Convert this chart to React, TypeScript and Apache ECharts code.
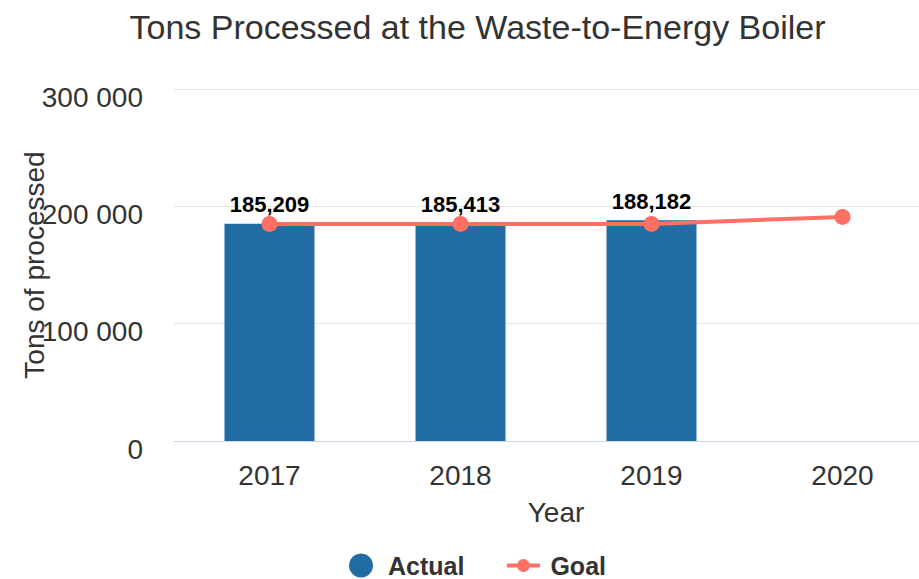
import React, { useEffect, useRef } from "react";
import * as echarts from "echarts";

const categories = ["2017", "2018", "2019", "2020"];
const actualValues: (number | null)[] = [185209, 185413, 188182, null];
const goalValues = [185000, 185000, 185000, 191000];
const yTicks = [0, 100000, 200000, 300000];

const FONT = "'Liberation Sans', Arial, Helvetica, sans-serif";
const BLUE = "#226ca4";
const CORAL = "#fe6f64";

const goalIcon =
  "path://M5.5,10 L38.5,10 L38.5,14 L5.5,14 Z M15.5,12 A6.5,6.5 0 1,1 28.5,12 A6.5,6.5 0 1,1 15.5,12 Z M0,0 L0.01,0 L0,0.01 Z M44,24 L43.99,24 L44,23.99 Z";

export default function App() {
  const ref = useRef<HTMLDivElement>(null);
  useEffect(() => {
    if (!ref.current) return;
    const chart = echarts.init(ref.current, undefined, { renderer: "svg" });
    chart.setOption({
      animation: false,
      backgroundColor: "#ffffff",
      title: {
        text: "Tons Processed at the Waste-to-Energy Boiler",
        left: "center",
        top: 5,
        textStyle: { fontFamily: FONT, fontSize: 34, fontWeight: "normal", color: "#333333" },
      },
      legend: {
        top: 548,
        left: "center",
        itemWidth: 44,
        itemHeight: 24,
        itemGap: 37,
        textStyle: { fontFamily: FONT, fontSize: 25, lineHeight: 25, fontWeight: "bold", color: "#333333" },
        data: [
          { name: "Actual", icon: "circle" },
          { name: "Goal", icon: goalIcon },
        ],
      },
      grid: { left: 174, right: 17, top: 89, bottom: 138, containLabel: false, outerBoundsMode: "none" },
      xAxis: {
        type: "category",
        data: categories,
        name: "Year",
        nameLocation: "middle",
        nameGap: 57,
        nameMoveOverlap: false,
        nameTextStyle: { fontFamily: FONT, fontSize: 28, color: "#333333" },
        axisTick: { show: false },
        axisLine: { show: true, lineStyle: { color: "#ccd6eb", width: 1 } },
        axisLabel: { fontFamily: FONT, fontSize: 28, color: "#333333", margin: 20 },
      },
      yAxis: {
        type: "value",
        min: yTicks[0],
        max: yTicks[yTicks.length - 1],
        interval: 100000,
        name: "Tons of processed",
        nameLocation: "middle",
        nameGap: 126,
        nameMoveOverlap: false,
        nameTextStyle: { fontFamily: FONT, fontSize: 28, color: "#333333" },
        axisLine: { show: false },
        axisTick: { show: false },
        splitLine: { lineStyle: { color: "#e6e6e6", width: 1 } },
        axisLabel: {
          fontFamily: FONT,
          fontSize: 28,
          color: "#333333",
          margin: 31,
          verticalAlign: "top",
          lineHeight: 16,
          formatter: (v: number) => String(v).replace(/\B(?=(\d{3})+(?!\d))/g, " "),
        },
      },
      series: [
        {
          name: "Actual",
          type: "bar",
          data: actualValues,
          barWidth: 90,
          itemStyle: { color: BLUE },
          label: {
            show: true,
            position: "top",
            distance: 8,
            fontFamily: FONT,
            fontSize: 22,
            fontWeight: "bold",
            color: "#000000",
            formatter: (p: any) => Number(p.value).toLocaleString("en-US"),
          },
          z: 2,
        },
        {
          name: "Goal",
          type: "line",
          data: goalValues,
          symbol: "circle",
          symbolSize: 16,
          itemStyle: { color: CORAL },
          lineStyle: { color: CORAL, width: 4 },
          z: 3,
        },
      ],
    });
    return () => chart.dispose();
  }, []);
  return (
    <div
      style={{
        position: "absolute",
        left: 0,
        top: 0,
        width: 919,
        height: 579,
        overflow: "hidden",
        background: "#fff",
      }}
    >
      <div ref={ref} style={{ width: 955, height: 579 }} />
    </div>
  );
}
